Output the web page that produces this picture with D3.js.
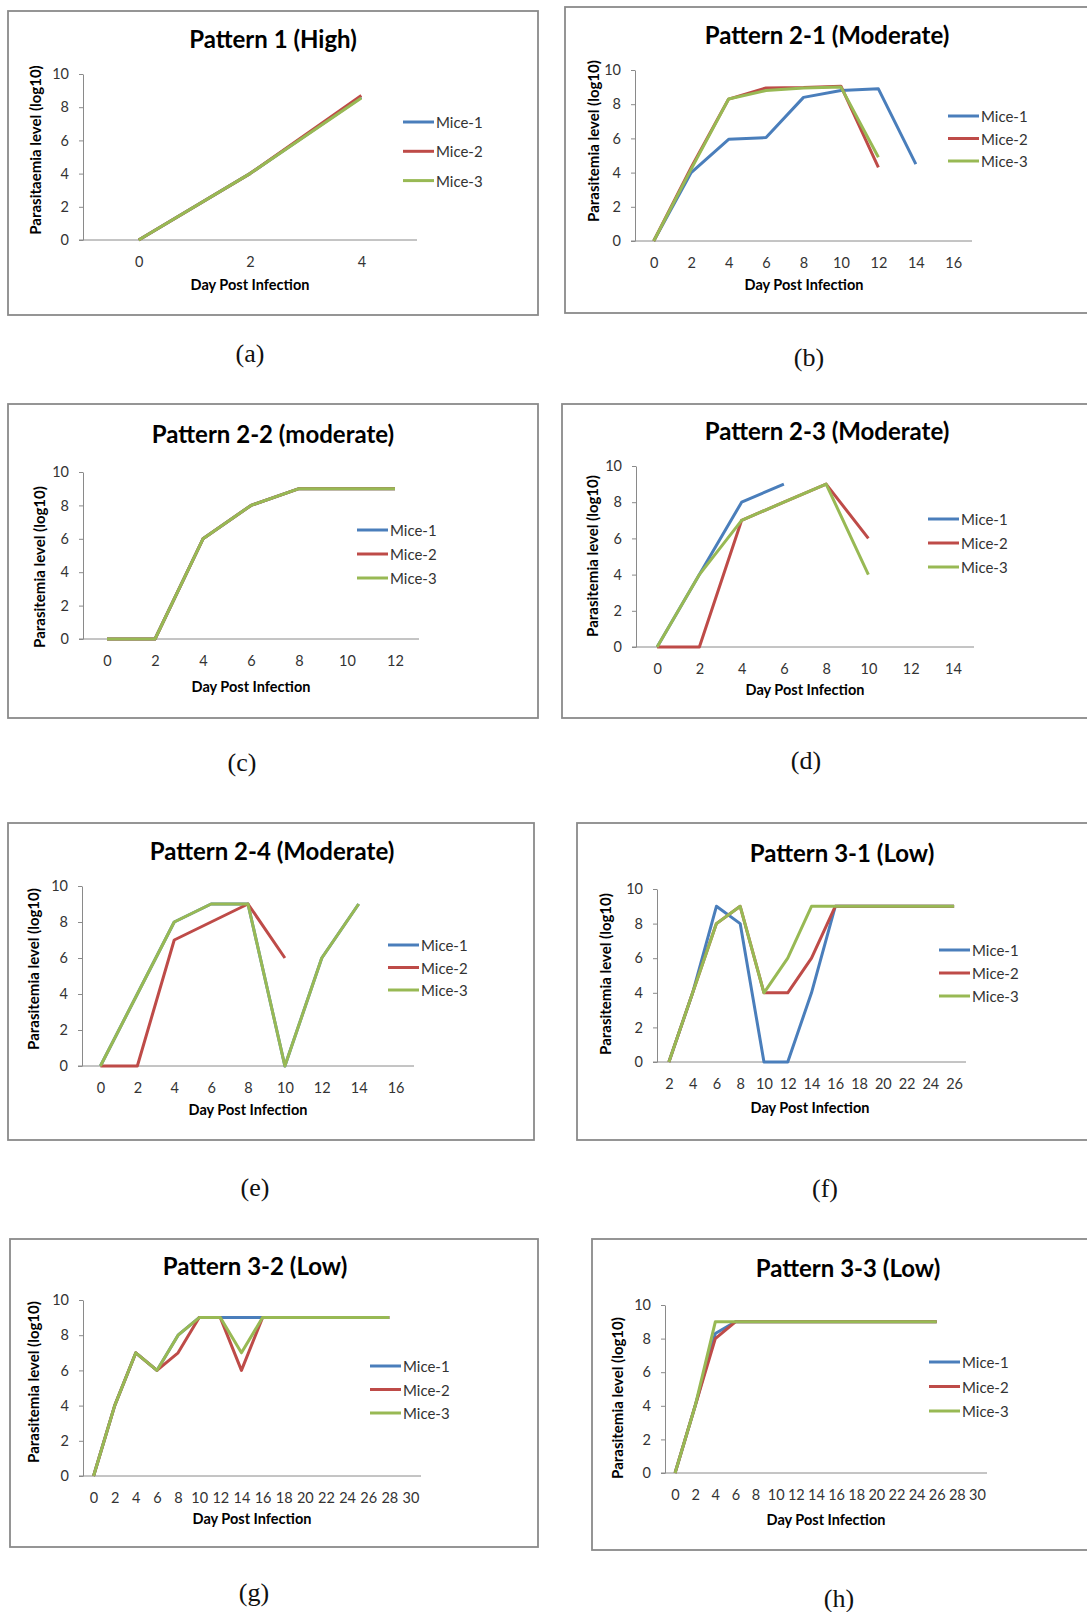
<!DOCTYPE html>
<html>
<head>
<meta charset="utf-8">
<script src="https://cdn.jsdelivr.net/npm/d3@7"></script>
<style>
  body { margin: 0; background: #fff; }
  svg text { font-family: Lato, "Noto Sans", sans-serif; }
</style>
</head>
<body>
<div id="chart"></div>
<script>
// Data (log10 parasitemia per mouse, by day post infection)
const seriesNames = ['Mice-1', 'Mice-2', 'Mice-3'];
const seriesColors = ['#4a7ebb', '#be4b48', '#98b954'];
const yTicks = [0, 2, 4, 6, 8, 10];

const daysA = [0, 2, 4];
const aMice1 = [0, 4, 8.6];
const aMice2 = [0, 4, 8.7];
const aMice3 = [0, 4, 8.55];

const daysB = [0, 2, 4, 6, 8, 10, 12, 14, 16];
const bMice1 = [0, 4, 5.95, 6.05, 8.4, 8.8, 8.9, 4.5, null];
const bMice2 = [0, 4.3, 8.3, 8.95, 8.97, 9.05, 4.3, null, null];
const bMice3 = [0, 4.2, 8.3, 8.8, 8.95, 9.0, 4.9, null, null];

const daysC = [0, 2, 4, 6, 8, 10, 12];
const cMice1 = [0, 0, 6, 8, 9, 9, 9];
const cMice2 = [0, 0, 6, 8, 9, 9, 9];
const cMice3 = [0, 0, 6, 8, 9, 9, 9];

const daysD = [0, 2, 4, 6, 8, 10, 12, 14];
const dMice1 = [0, 4, 8, 9, null, null, null, null];
const dMice2 = [0, 0, 7, 8, 9, 6, null, null];
const dMice3 = [0, 4, 7, 8, 9, 4, null, null];

const daysE = [0, 2, 4, 6, 8, 10, 12, 14, 16];
const eMice1 = [0, 4, 8, 9, 9, 0, 6, 9, null];
const eMice2 = [0, 0, 7, 8, 9, 6, null, null, null];
const eMice3 = [0, 4, 8, 9, 9, 0, 6, 9, null];

const daysF = [2, 4, 6, 8, 10, 12, 14, 16, 18, 20, 22, 24, 26];
const fMice1 = [0, 4, 9, 8, 0, 0, 4, 9, 9, 9, 9, 9, 9];
const fMice2 = [0, 4, 8, 9, 4, 4, 6, 9, 9, 9, 9, 9, 9];
const fMice3 = [0, 4, 8, 9, 4, 6, 9, 9, 9, 9, 9, 9, 9];

const daysG = [0, 2, 4, 6, 8, 10, 12, 14, 16, 18, 20, 22, 24, 26, 28, 30];
const gMice1 = [0, 4, 7, 6, 8, 9, 9, 9, 9, 9, 9, 9, 9, 9, 9, null];
const gMice2 = [0, 4, 7, 6, 7, 9, 9, 6, 9, 9, 9, 9, 9, 9, 9, null];
const gMice3 = [0, 4, 7, 6, 8, 9, 9, 7, 9, 9, 9, 9, 9, 9, 9, null];

const daysH = [0, 2, 4, 6, 8, 10, 12, 14, 16, 18, 20, 22, 24, 26, 28, 30];
const hMice1 = [0, 4, 8.3, 9, 9, 9, 9, 9, 9, 9, 9, 9, 9, 9, null, null];
const hMice2 = [0, 4, 8, 9, 9, 9, 9, 9, 9, 9, 9, 9, 9, 9, null, null];
const hMice3 = [0, 4, 9, 9, 9, 9, 9, 9, 9, 9, 9, 9, 9, 9, null, null];

// Panel layout (pixel positions of each Excel chart on the page)
const panels = [
  { title: 'Pattern 1 (High)', yLabel: 'Parasitaemia level (log10)', caption: '(a)',
    days: daysA, mice: [aMice1, aMice2, aMice3],
    box: [8, 11, 538, 315], titleAt: [273, 48], plot: [83, 417, 74, 240],
    yTitleAt: [35, 150], xTitleAt: [250, 290], legend: [403, 122, 29.3], captionAt: [250, 353] },
  { title: 'Pattern 2-1 (Moderate)', yLabel: 'Parasitemia level (log10)', caption: '(b)',
    days: daysB, mice: [bMice1, bMice2, bMice3],
    box: [565, 7, 1095, 313], titleAt: [827, 44], plot: [635, 972, 70, 241],
    yTitleAt: [593, 141], xTitleAt: [804, 290], legend: [948, 116, 22.5], captionAt: [809, 357] },
  { title: 'Pattern 2-2 (moderate)', yLabel: 'Parasitemia level (log10)', caption: '(c)',
    days: daysC, mice: [cMice1, cMice2, cMice3],
    box: [8, 404, 538, 718], titleAt: [273, 443], plot: [83, 419, 472, 639],
    yTitleAt: [39, 567], xTitleAt: [251, 692], legend: [357, 530, 24], captionAt: [242, 762] },
  { title: 'Pattern 2-3 (Moderate)', yLabel: 'Parasitemia level (log10)', caption: '(d)',
    days: daysD, mice: [dMice1, dMice2, dMice3],
    box: [562, 404, 1095, 718], titleAt: [827, 440], plot: [636, 974, 466, 647],
    yTitleAt: [592, 556], xTitleAt: [805, 695], legend: [928, 519, 24], captionAt: [806, 760] },
  { title: 'Pattern 2-4 (Moderate)', yLabel: 'Parasitemia level (log10)', caption: '(e)',
    days: daysE, mice: [eMice1, eMice2, eMice3],
    box: [8, 823, 534, 1140], titleAt: [272, 860], plot: [82, 414, 886, 1066],
    yTitleAt: [33, 969], xTitleAt: [248, 1115], legend: [388, 945, 22.5], captionAt: [255, 1187] },
  { title: 'Pattern 3-1 (Low)', yLabel: 'Parasitemia level (log10)', caption: '(f)',
    days: daysF, mice: [fMice1, fMice2, fMice3],
    box: [577, 823, 1095, 1140], titleAt: [842, 862], plot: [657, 966, 889, 1062],
    yTitleAt: [605, 974], xTitleAt: [810, 1113], legend: [939, 950, 23], captionAt: [825, 1188] },
  { title: 'Pattern 3-2 (Low)', yLabel: 'Parasitemia level (log10)', caption: '(g)',
    days: daysG, mice: [gMice1, gMice2, gMice3],
    box: [10, 1239, 538, 1547], titleAt: [255, 1275], plot: [83, 421, 1300, 1476],
    yTitleAt: [33, 1382], xTitleAt: [252, 1524], legend: [370, 1366, 23.5], captionAt: [254, 1592] },
  { title: 'Pattern 3-3 (Low)', yLabel: 'Parasitemia level (log10)', caption: '(h)',
    days: daysH, mice: [hMice1, hMice2, hMice3],
    box: [592, 1239, 1095, 1550], titleAt: [848, 1277], plot: [665, 987, 1305, 1473],
    yTitleAt: [617, 1398], xTitleAt: [826, 1525], legend: [929, 1362, 24.5], captionAt: [839, 1598] }
];

const svg = d3.select('#chart')
  .append('svg')
  .attr('width', 1087)
  .attr('height', 1612);

panels.forEach((p) => {
  const g = svg.append('g');
  const [bx0, by0, bx1, by1] = p.box;
  const [x0, x1, yTop, yBot] = p.plot;

  g.append('rect')
    .attr('x', bx0).attr('y', by0)
    .attr('width', bx1 - bx0).attr('height', by1 - by0)
    .attr('fill', '#fff')
    .attr('stroke', '#8a8a8a')
    .attr('stroke-width', 1.8);

  g.append('text')
    .attr('x', p.titleAt[0]).attr('y', p.titleAt[1])
    .attr('text-anchor', 'middle')
    .attr('font-size', 24).attr('font-weight', 700)
    .attr('fill', '#000')
    .text(p.title);

  const x = d3.scalePoint().domain(p.days).range([x0, x1]).padding(0.5);
  const y = d3.scaleLinear().domain([0, 10]).range([yBot, yTop]);

  // Y axis
  const yAxis = g.append('g')
    .attr('transform', `translate(${x0},0)`)
    .call(d3.axisLeft(y).tickValues(yTicks).tickSize(4).tickSizeOuter(0).tickPadding(10));
  yAxis.select('.domain').attr('stroke', '#8a8a8a');
  yAxis.selectAll('.tick line').attr('stroke', '#8a8a8a');
  yAxis.selectAll('.tick text')
    .attr('font-size', 14.5).attr('fill', '#333')
    .style('font-family', 'Lato, sans-serif');

  // X axis (category)
  const xAxis = g.append('g')
    .attr('transform', `translate(0,${yBot})`)
    .call(d3.axisBottom(x).tickSize(0).tickSizeOuter(0).tickPadding(17));
  xAxis.select('.domain').attr('stroke', '#8a8a8a').attr('d', `M${x0 - 4},0H${x1}`);
  xAxis.selectAll('.tick text')
    .attr('font-size', 14.5).attr('fill', '#333')
    .style('font-family', 'Lato, sans-serif');

  g.append('text')
    .attr('transform', `translate(${p.yTitleAt[0]},${p.yTitleAt[1]}) rotate(-90)`)
    .attr('text-anchor', 'middle')
    .attr('dominant-baseline', 'central')
    .attr('font-size', 15).attr('font-weight', 700)
    .attr('fill', '#000')
    .text(p.yLabel);

  g.append('text')
    .attr('x', p.xTitleAt[0]).attr('y', p.xTitleAt[1])
    .attr('text-anchor', 'middle')
    .attr('font-size', 14.5).attr('font-weight', 700)
    .attr('fill', '#000')
    .text('Day Post Infection');

  // Lines
  const line = d3.line()
    .defined((d) => d[1] != null)
    .x((d) => x(d[0]))
    .y((d) => y(d[1]));

  p.mice.forEach((vals, i) => {
    g.append('path')
      .datum(p.days.map((day, j) => [day, vals[j]]))
      .attr('fill', 'none')
      .attr('stroke', seriesColors[i])
      .attr('stroke-width', 3)
      .attr('stroke-linejoin', 'round')
      .attr('d', line);
  });

  // Legend
  const [lx, ly, lstep] = p.legend;
  seriesNames.forEach((name, i) => {
    const yy = ly + i * lstep;
    g.append('line')
      .attr('x1', lx).attr('x2', lx + 31)
      .attr('y1', yy).attr('y2', yy)
      .attr('stroke', seriesColors[i])
      .attr('stroke-width', 3);
    g.append('text')
      .attr('x', lx + 33).attr('y', yy)
      .attr('dominant-baseline', 'central')
      .attr('font-size', 15).attr('fill', '#333')
      .text(name);
  });

  g.append('text')
    .attr('x', p.captionAt[0]).attr('y', p.captionAt[1])
    .attr('text-anchor', 'middle')
    .attr('dominant-baseline', 'central')
    .attr('font-size', 26)
    .attr('fill', '#111')
    .style('font-family', '"Liberation Serif", "DejaVu Serif", serif')
    .text(p.caption);
});
</script>
</body>
</html>
